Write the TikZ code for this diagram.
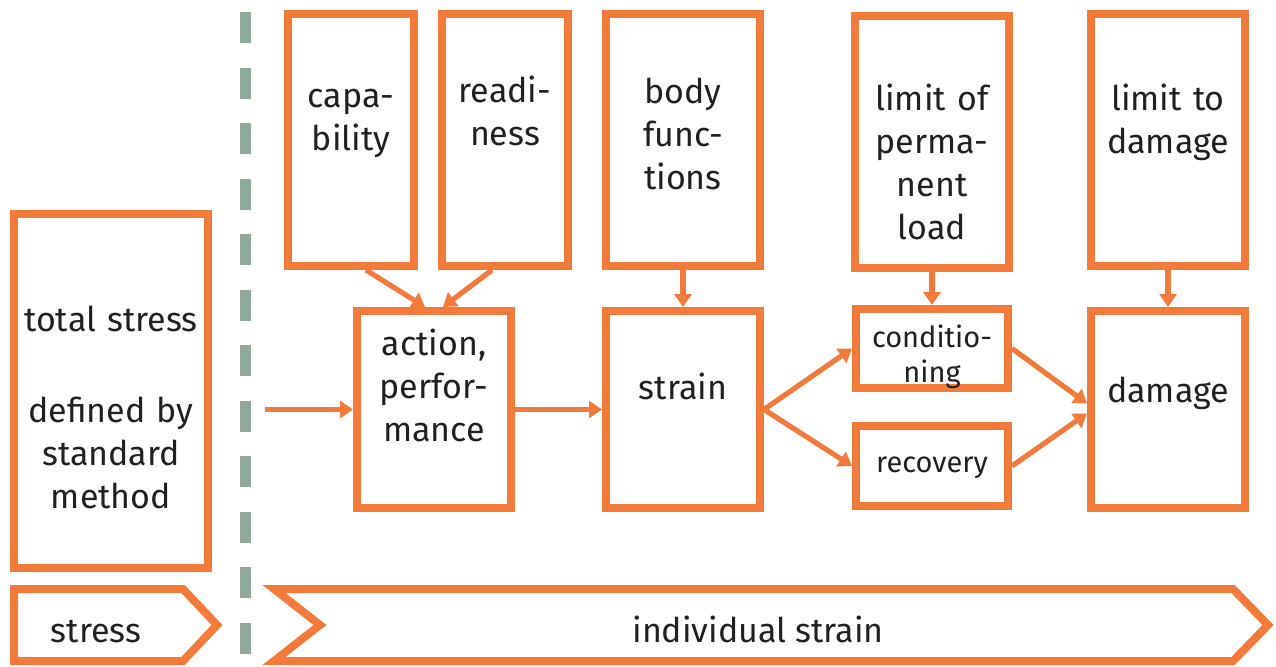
\documentclass[tikz,border=0pt]{standalone}
\usepackage{fontspec}
\setmainfont{Fira Sans}
\usetikzlibrary{arrows.meta,positioning}
\definecolor{strainorange}{HTML}{F27A3A}
\definecolor{dividergray}{HTML}{8FA99B}
\definecolor{ink}{HTML}{231F20}

\begin{document}
\begin{tikzpicture}[
    x=1pt, y=-1pt,
    font=\fontsize{17pt}{21.5pt}\selectfont,
    text=ink,
    box/.style={
        draw=strainorange,
        line width=4pt,
        outer sep=2pt,
        inner sep=0pt,
        align=center,
        fill=white
    },
    topbox/.style={box, text width=77pt, text height=46pt, text depth=80pt},
    midbox/.style={box, text width=77pt, text height=44pt, text depth=54.5pt},
    smallbox/.style={box, text width=76pt,
        font=\fontsize{14.5pt}{17.5pt}\selectfont},
    arrow/.style={-{Triangle[length=6.5pt,width=8.5pt]}, line width=2.6pt,
        draw=strainorange},
    chevron/.style={draw=strainorange, line width=4pt},
    divider/.style={draw=dividergray, line width=5.5pt,
        dash pattern=on 15.5pt off 12.25pt}
]
\useasboundingbox (0,0) rectangle (638,333);

% stress | strain separator
\draw[divider] (122.75,6) -- (122.75,333);

\node[box, text width=97pt, text height=58.5pt, text depth=118.5pt]
    (total) at (55.5,195.5) {total stress\\[24pt]defined by\\standard\\method};

\node[midbox, text height=22pt, text depth=76.5pt] (action) at (217,204.75)
    {action,\\perfor-\\mance};
\node[midbox, right=43.5pt of action] (strain) {strain};
\node[smallbox, text height=19pt, text depth=20.5pt] (cond) at (466,174.25)
    {conditio-\\ning};
\node[smallbox, text height=23pt, text depth=17pt] (recovery) at (466,233)
    {recovery};
\node[midbox, text height=45.5pt, text depth=53pt] (damage) at (584,204.75)
    {damage};

\node[topbox, above=18.5pt of strain, text height=44.5pt, text depth=81.5pt]
    (body) {body\\func-\\tions};
\node[topbox, text width=63pt, left=15pt of body, text height=44pt, text depth=82pt]
    (readiness) {readi-\\ness};
\node[topbox, text width=63pt, left=10pt of readiness, text height=46.5pt,
    text depth=79.5pt] (capability) {capa-\\bility};
\node[topbox, above=16.5pt of cond, text height=47pt, text depth=79pt]
    (permload) {limit of\\perma-\\nent\\load};
\node[topbox, above=18.5pt of damage, text height=48pt, text depth=78pt]
    (damagelimit) {limit to\\damage};

\coordinate (entry) at (132.5,204.75);
\draw[arrow] (entry) -- (action.west);
\draw[arrow] (action.east) -- (strain.west);
\draw[arrow] (strain.east) -- (cond.west);
\draw[arrow] (strain.east) -- (recovery.west);
\draw[arrow] (cond.east) -- ([yshift=3pt]damage.west);
\draw[arrow] (recovery.east) -- ([yshift=-2pt]damage.west);
\draw[arrow] ([xshift=7.5pt]capability.south) -- ([xshift=-4.5pt]action.north);
\draw[arrow] ([xshift=-6.5pt]readiness.south) -- ([xshift=4.5pt]action.north);
\draw[arrow] (body.south) -- (strain.north);
\draw[arrow] (permload.south) -- (cond.north);
\draw[arrow] (damagelimit.south) -- (damage.north);

% bottom bands
\draw[chevron] (7,294.5) -- (91.5,294.5) -- (108.5,312.5) -- (91.5,330.5)
    -- (7,330.5) -- cycle;
\node[anchor=base] (stress) at (48,321) {stress};
\draw[chevron] (137,294.5) -- (616.5,294.5) -- (634,312.5) -- (616.5,330.5)
    -- (137,330.5) -- (160,312.5) -- cycle;
\node[anchor=base] (indstrain) at (379,321) {individual strain};

\end{tikzpicture}
\end{document}
